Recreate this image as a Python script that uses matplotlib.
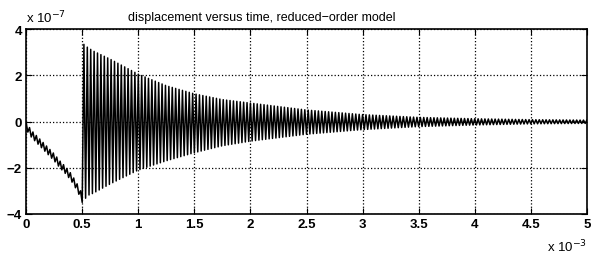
import numpy as np
import matplotlib.pyplot as plt

# values in units of 1e-3 s (time) and 1e-7 (displacement)
ramp_t = [0.0, 0.05, 0.1, 0.15, 0.2, 0.25, 0.3, 0.35, 0.4, 0.45, 0.5]
ramp_mid = [-0.2, -0.55, -0.8, -1.05, -1.3, -1.55, -1.85, -2.1, -2.4, -2.8, -3.3]
ramp_amp = 0.3

env_t = [0.5, 0.55, 0.6, 0.75, 1.0, 1.25, 1.5, 1.75, 2.0, 2.5, 3.0, 3.5, 4.0, 4.5, 5.0]
env_top = [3.4, 3.2, 3.05, 2.7, 2.05, 1.55, 1.2, 0.95, 0.8, 0.5, 0.3, 0.18, 0.12, 0.08, 0.06]
env_bot = [-3.5, -3.2, -3.1, -2.7, -2.1, -1.7, -1.35, -1.05, -0.85, -0.55, -0.35, -0.22, -0.15, -0.1, -0.08]

cycles_per_ms = 33  # counted spikes per 1e-3 s

xticks = [0, 0.5, 1, 1.5, 2, 2.5, 3, 3.5, 4, 4.5, 5]
xticklabels = ['0', '0.5', '1', '1.5', '2', '2.5', '3', '3.5', '4', '4.5', '5']
yticks = [-4, -2, 0, 2, 4]
yticklabels = ['\u22124', '\u22122', '0', '2', '4']

# zigzag vertices: alternate between the read envelopes each half cycle
half = 0.5 / cycles_per_ms
t1 = np.arange(0, 0.5, half)
y1 = np.interp(t1, ramp_t, ramp_mid) + ramp_amp * np.where(np.arange(len(t1)) % 2 == 0, 0.5, -0.5)
t2 = np.arange(0.5, 5.0 + half / 2, half)
k = np.arange(len(t2))
y2 = np.where(k % 2 == 0, np.interp(t2, env_t, env_bot), np.interp(t2, env_t, env_top))
t = np.concatenate([t1, t2])
y = np.concatenate([y1, y2])

plt.rcParams['font.family'] = ['Liberation Sans', 'DejaVu Sans']
fig = plt.figure(figsize=(5.94, 2.55), dpi=100)
ax = fig.add_axes([0.044, 0.157, 0.944, 0.725])
ax.plot(t, y, color='black', lw=1.1)

ax.set_xlim(0, 5)
ax.set_ylim(-4, 4)
ax.set_xticks(xticks)
ax.set_xticklabels(xticklabels, fontweight='bold', fontsize=9.5)
ax.set_yticks(yticks)
ax.set_yticklabels(yticklabels, fontweight='bold', fontsize=9.5)
ax.tick_params(direction='in', top=True, right=True, length=4, pad=3)
ax.grid(True, linestyle=':', color='black', lw=0.9)
for s in ax.spines.values():
    s.set_linewidth(1.2)

ax.text(0.42, 1.035, 'displacement versus time, reduced\u2212order model',
        transform=ax.transAxes, fontsize=9, ha='center', va='bottom')
ax.text(0.0, 1.02, 'x 10$^{-7}$', transform=ax.transAxes, fontsize=9.5, ha='left', va='bottom')
ax.text(1.0, -0.13, 'x 10$^{-3}$', transform=ax.transAxes, fontsize=9.5, ha='right', va='top')

fig.savefig('out.png', dpi=100)
